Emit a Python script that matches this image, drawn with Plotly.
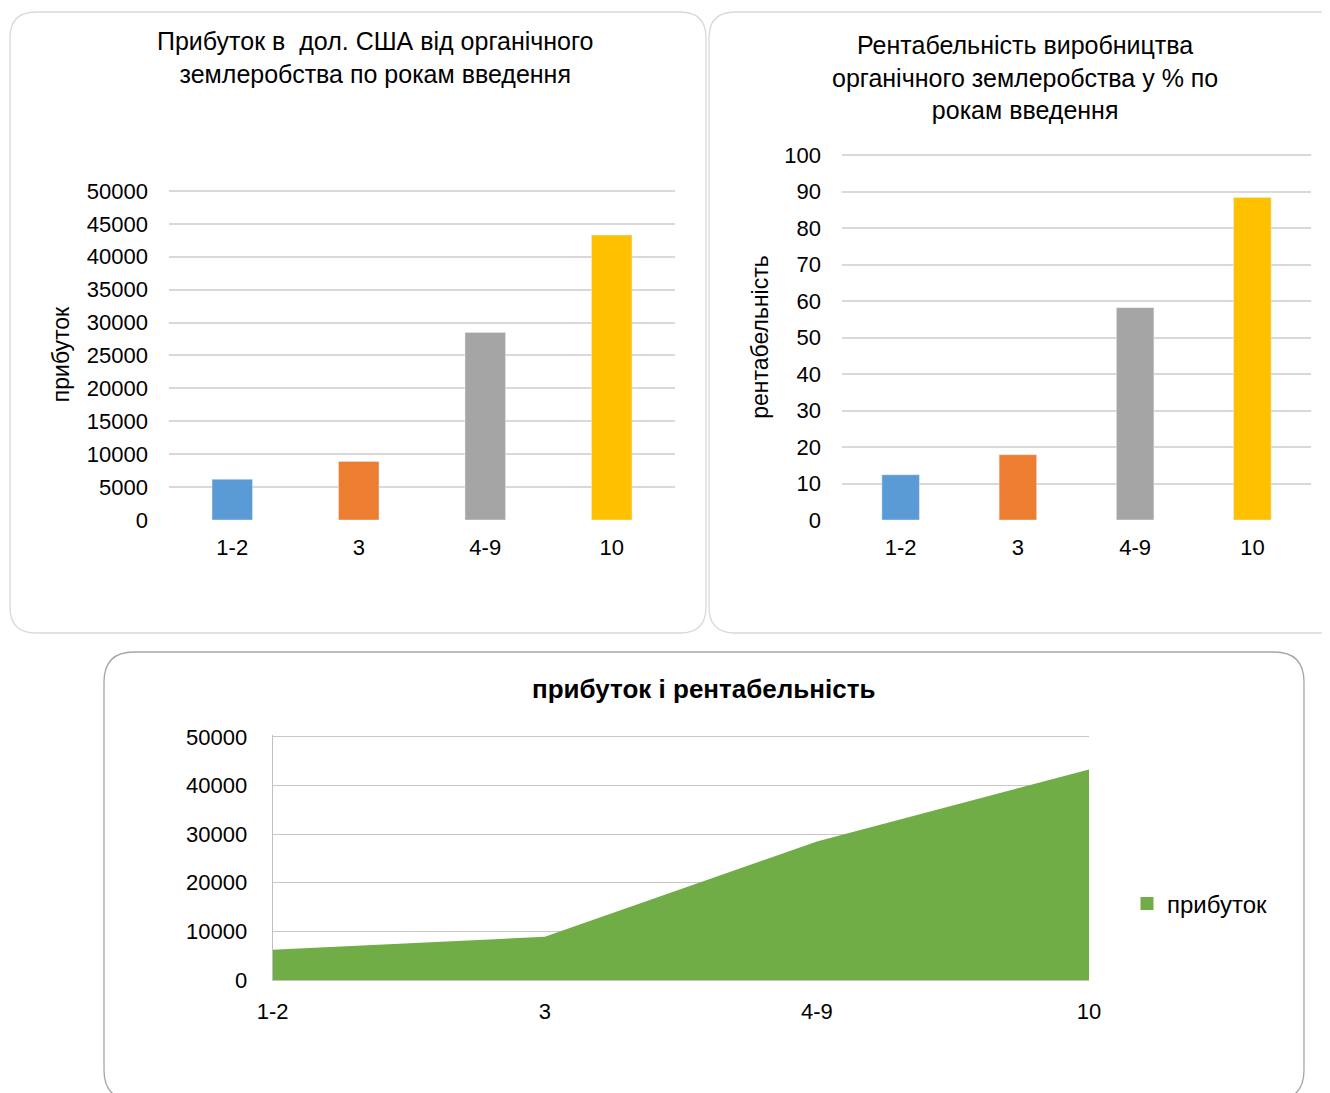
"""Прибуток і рентабельність органічного землеробства."""
import plotly.graph_objects as go

# сторінка має відступ 8px, тому полотно трохи менше за вікно
PAD = 8
W, H = 1330 - PAD, 1093 - PAD

years = ["1-2", "3", "4-9", "10"]
profit = [6200, 8900, 28500, 43300]
profitability = [12.4, 17.9, 58.2, 88.4]
bar_colors = ["#5b9bd5", "#ed7d31", "#a5a5a5", "#ffc000"]

FONT = "Arial, Liberation Sans, sans-serif"
INK = "#000000"
GREEN = "#70ad47"


def px_x(x):
    return (x - PAD) / W


def px_y(y):
    return 1 - (y - PAD) / H


def rounded_box(x0, y0, x1, y1, r, color):
    # рамка з заокругленими кутами, координати в пікселях вікна
    pts = [
        f"M {px_x(x0 + r)},{px_y(y0)}",
        f"L {px_x(x1 - r)},{px_y(y0)}",
        f"Q {px_x(x1)},{px_y(y0)} {px_x(x1)},{px_y(y0 + r)}",
        f"L {px_x(x1)},{px_y(y1 - r)}",
        f"Q {px_x(x1)},{px_y(y1)} {px_x(x1 - r)},{px_y(y1)}",
        f"L {px_x(x0 + r)},{px_y(y1)}",
        f"Q {px_x(x0)},{px_y(y1)} {px_x(x0)},{px_y(y1 - r)}",
        f"L {px_x(x0)},{px_y(y0 + r)}",
        f"Q {px_x(x0)},{px_y(y0)} {px_x(x0 + r)},{px_y(y0)}",
        "Z",
    ]
    return dict(type="path", xref="paper", yref="paper", path=" ".join(pts),
                line=dict(color=color, width=1.3), fillcolor="rgba(0,0,0,0)", layer="below")


fig = go.Figure()

fig.add_trace(go.Bar(x=years, y=profit, marker_color=bar_colors, width=0.32,
                     xaxis="x", yaxis="y", showlegend=False))
fig.add_trace(go.Bar(x=years, y=profitability, marker_color=bar_colors, width=0.32,
                     xaxis="x2", yaxis="y2", showlegend=False))
fig.add_trace(go.Scatter(x=years, y=profit, mode="none", fill="tozeroy",
                         fillcolor=GREEN, name="прибуток",
                         xaxis="x3", yaxis="y3", showlegend=False))
# квадратик для легенди
fig.add_trace(go.Scatter(x=[None], y=[None], mode="markers", name="прибуток",
                         marker=dict(symbol="square", size=13, color=GREEN),
                         xaxis="x3", yaxis="y3", showlegend=True))

tick_font = dict(family=FONT, size=22, color=INK)
bar_y = dict(showgrid=True, gridcolor="#d9d9d9", gridwidth=1.5, zeroline=False,
             showline=False, tickfont=tick_font, ticks="", ticklabelstandoff=20,
             tickformat="d", automargin=False)
bar_x = dict(type="category", showgrid=False, showline=False, zeroline=False,
             tickfont=tick_font, ticks="", range=[-0.5, 3.5], ticklabelstandoff=12,
             automargin=False)

# діапазони трохи більші за верхню мітку, щоб верхня лінія сітки лишилась видимою
fig.update_layout(
    width=W, height=H,
    margin=dict(l=0, r=0, t=0, b=0),
    paper_bgcolor="white", plot_bgcolor="white",
    font=dict(family=FONT, color=INK),
    xaxis=dict(domain=[px_x(169), px_x(675)], anchor="y", **bar_x),
    yaxis=dict(domain=[px_y(520), px_y(189)], anchor="x", range=[0, 50300], dtick=5000,
               title=dict(text="прибуток", font=dict(family=FONT, size=23), standoff=10),
               **bar_y),
    xaxis2=dict(domain=[px_x(842), px_x(1311)], anchor="y2", **bar_x),
    yaxis2=dict(domain=[px_y(520), px_y(154)], anchor="x2", range=[0, 100.3], dtick=10,
                title=dict(text="рентабельність", font=dict(family=FONT, size=23), standoff=9),
                **bar_y),
    xaxis3=dict(domain=[px_x(272.7), px_x(1089)], anchor="y3", type="category",
                range=[0, 3], showgrid=False, zeroline=False, showline=True,
                linecolor="#bfbfbf", linewidth=1.3, tickfont=tick_font, ticks="",
                ticklabelstandoff=11, automargin=False),
    yaxis3=dict(domain=[px_y(980), px_y(735)], anchor="x3", range=[0, 50400], dtick=10000,
                showgrid=True, gridcolor="#c8c8c8", gridwidth=1.3, zeroline=False,
                showline=True, linecolor="#bfbfbf", linewidth=1.3, tickfont=tick_font,
                ticks="", ticklabelstandoff=20, tickformat="d", automargin=False),
    legend=dict(x=px_x(1127), y=px_y(904), xanchor="left", yanchor="middle",
                font=dict(family=FONT, size=24, color=INK), bgcolor="rgba(0,0,0,0)",
                itemwidth=30),
    shapes=[
        rounded_box(10, 12, 706, 633, 26, "#d9d9d9"),
        rounded_box(709, 12, 1345, 633, 26, "#d9d9d9"),
        rounded_box(104, 652, 1304, 1100, 30, "#a6a6a6"),
    ],
    annotations=[
        dict(text="Прибуток в  дол. США від органічного<br>землеробства по рокам введення",
             xref="paper", yref="paper", x=px_x(375), y=px_y(57), showarrow=False,
             xanchor="center", yanchor="middle",
             font=dict(family=FONT, size=25, color=INK)),
        dict(text="Рентабельність виробництва<br>органічного землеробства у % по<br>рокам введення",
             xref="paper", yref="paper", x=px_x(1025), y=px_y(78), showarrow=False,
             xanchor="center", yanchor="middle",
             font=dict(family=FONT, size=25, color=INK)),
        dict(text="<b>прибуток і рентабельність</b>",
             xref="paper", yref="paper", x=px_x(703), y=px_y(689), showarrow=False,
             xanchor="center", yanchor="middle",
             font=dict(family=FONT, size=26, color=INK)),
    ],
)

fig.write_html("out.html")
